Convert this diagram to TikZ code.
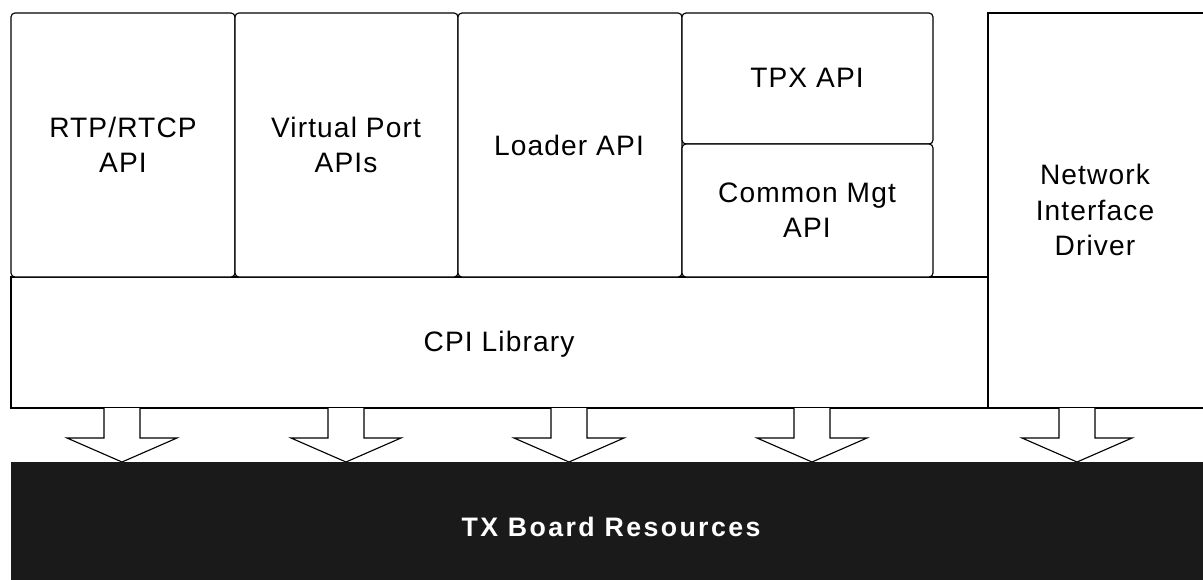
\documentclass[tikz,border=0pt]{standalone}
\usepackage{fontspec}
\setmainfont{Liberation Sans}
\newfontfamily\boxfont[LetterSpace=4]{Liberation Sans}
\newfontfamily\boardfont[LetterSpace=9]{Liberation Sans}
\usetikzlibrary{calc}
\definecolor{boardblack}{HTML}{1A1A1A}
\def\hollowarrow#1{\draw[fill=white] (#1-18,408) -- (#1-18,438) -- (#1-55,438) -- (#1,462) -- (#1+55,438) -- (#1+18,438) -- (#1+18,408);}

\begin{document}
\begin{tikzpicture}[x=0.025cm,y=-0.025cm,line width=0.8pt,
	apibox/.style={draw, rounded corners=2.8pt, fill=white},
	plainbox/.style={draw, fill=white},
	boxlabel/.style={align=center, font=\boxfont\fontsize{20}{25}\selectfont}]
	%%%%% START %%%%%
	\useasboundingbox (0,0) rectangle (1203,579);
	\clip (0,0) rectangle (1203,579);
	
	% driver and library
	\draw[plainbox] (988,13) rectangle (1215,408);
	\node[boxlabel] (nid) at (1095,210) {Network\\Interface\\Driver};
	\draw[plainbox] (11,277) rectangle (988,408);
	\node[boxlabel] (cpi) at (499,344) {CPI Library};
	
	% API boxes
	\draw[apibox] (11,13) rectangle (235,277);
	\node[boxlabel] (rtp) at (123,145) {RTP/RTCP\\API};
	\draw[apibox] (235,13) rectangle (458,277);
	\node[boxlabel] (vport) at (346,145) {Virtual Port\\APIs};
	\draw[apibox] (458,13) rectangle (682,277);
	\node[boxlabel] (loader) at (569,145) {Loader API};
	\draw[apibox] (682,13) rectangle (933,144);
	\node[boxlabel] (tpx) at (807,78) {TPX API};
	\draw[apibox] (682,144) rectangle (933,277);
	\node[boxlabel] (mgt) at (807,210) {Common Mgt\\API};
	
	% arrows down to the board
	\foreach \cx in {122,346,569,812,1077} {\hollowarrow{\cx}}
	
	\fill[boardblack] (11,462) rectangle (1215,590);
	\node[text=white, font=\boardfont\bfseries\fontsize{19}{23}\selectfont] (board) at (611,527) {TX Board Resources};
	%%%%% END %%%%%
\end{tikzpicture}
\end{document}
